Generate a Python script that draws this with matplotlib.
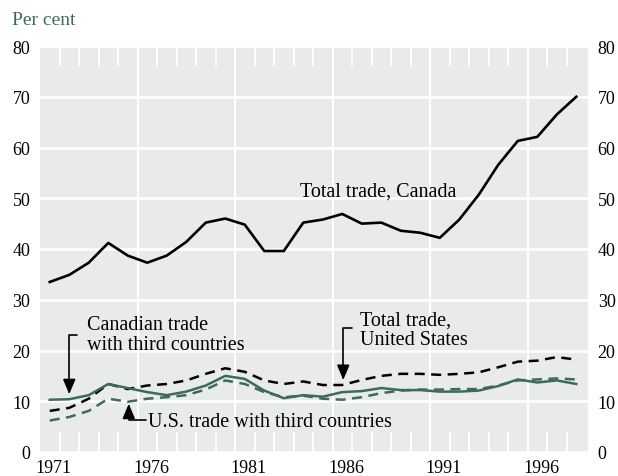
import numpy as np
import matplotlib.pyplot as plt
from matplotlib.transforms import ScaledTranslation

years = np.arange(1971, 1999)

# values (per cent)
total_canada = [33.5, 34.9, 37.3, 41.2, 38.7, 37.3, 38.7, 41.4, 45.2, 46.0,
                44.8, 39.6, 39.6, 45.2, 45.8, 46.9, 45.0, 45.2, 43.6, 43.2,
                42.2, 45.8, 50.7, 56.6, 61.3, 62.1, 66.5, 70.0]
total_us = [8.1, 8.7, 10.5, 13.4, 12.4, 13.1, 13.4, 14.1, 15.4, 16.5,
            15.8, 14.1, 13.4, 13.9, 13.2, 13.2, 14.2, 15.0, 15.4, 15.4,
            15.2, 15.4, 15.7, 16.7, 17.8, 18.0, 18.7, 18.2]
canada_third = [10.3, 10.4, 11.2, 13.4, 12.6, 11.8, 11.2, 11.9, 13.1, 15.0,
                14.4, 12.1, 10.6, 11.2, 10.9, 11.8, 12.0, 12.6, 12.2, 12.2,
                11.9, 11.9, 12.1, 13.0, 14.3, 13.7, 14.1, 13.4]
us_third = [6.2, 6.9, 8.1, 10.5, 9.9, 10.5, 10.8, 11.2, 12.3, 14.1,
            13.4, 11.8, 10.8, 11.1, 10.5, 10.3, 10.8, 11.6, 12.1, 12.3,
            12.3, 12.4, 12.4, 13.1, 14.1, 14.3, 14.5, 14.3]

xticks = [1971, 1976, 1981, 1986, 1991, 1996]
yticks = [0, 10, 20, 30, 40, 50, 60, 70, 80]

GREEN = '#3e6a5d'
BG = '#e8ebea'
FONT = 'Liberation Serif'

plt.rcParams['font.family'] = FONT

fig = plt.figure(figsize=(6.18, 4.77), dpi=100)
ax = fig.add_axes([40/618, 24/477, 548/618, 406/477])
ax.set_facecolor(BG)

ax.plot(years, total_canada, color='black', lw=1.9, zorder=3)
ax.plot(years, total_us, color='black', lw=1.8, dashes=(4, 2.6), zorder=3)
ax.plot(years, us_third, color=GREEN, lw=1.8, dashes=(4, 2.6), zorder=3)
ax.plot(years, canada_third, color=GREEN, lw=1.8, zorder=3)

ax.set_xlim(1970.5, 1998.6)
ax.set_ylim(0, 80)

for s in ax.spines.values():
    s.set_visible(False)

# white grid
ax.set_axisbelow(True)
ax.yaxis.grid(True, color='white', lw=1.8)
for g in [1975.5, 1980.5, 1985.5, 1990.5, 1995.5]:
    ax.axvline(g, color='white', lw=1.5, zorder=1)

ax.set_yticks(yticks)
ax.set_xticks(xticks)
ax.set_xticks(np.arange(1971.5, 1998, 1), minor=True)
ax.tick_params(axis='both', which='major', length=0, labelsize=13)
ax.tick_params(axis='y', labelright=True, pad=7)
ax.tick_params(axis='x', pad=5)
ax.tick_params(axis='x', which='minor', direction='in', length=14.4,
               width=1.3, color='white', top=True, bottom=True)
off = ScaledTranslation(4/100, 0, fig.dpi_scale_trans)
for lab in ax.get_xticklabels():
    lab.set_transform(lab.get_transform() + off)

fig.text(12/618, 1 - 25/477, 'Per cent', color=GREEN, fontsize=14, va='baseline')

tsize = 14.5
ax.text(1983.82, 50.5, 'Total trade, Canada', fontsize=tsize, va='baseline')
ax.text(1972.9, 24.3, 'Canadian trade', fontsize=tsize, va='baseline')
ax.text(1972.9, 20.3, 'with third countries', fontsize=tsize, va='baseline')
ax.text(1986.9, 25.2, 'Total trade,', fontsize=tsize, va='baseline')
ax.text(1986.9, 21.2, 'United States', fontsize=tsize, va='baseline')
ax.text(1976.03, 5.2, 'U.S. trade with third countries', fontsize=tsize, va='baseline')

arrow = dict(arrowstyle='-|>,head_length=0.9,head_width=0.38', color='black',
             lw=1.2, shrinkA=0, shrinkB=0, mutation_scale=10)
ax.annotate('', xy=(1972.0, 11.4), xytext=(1972.4, 23.1),
            arrowprops=dict(arrow, connectionstyle='angle,angleA=180,angleB=90,rad=0'))
ax.annotate('', xy=(1986.05, 14.2), xytext=(1986.5, 24.5),
            arrowprops=dict(arrow, connectionstyle='angle,angleA=180,angleB=90,rad=0'))
ax.annotate('', xy=(1975.05, 9.5), xytext=(1975.92, 6.3),
            arrowprops=dict(arrow, connectionstyle='angle,angleA=180,angleB=90,rad=0'))

fig.savefig('out.png', dpi=100)
